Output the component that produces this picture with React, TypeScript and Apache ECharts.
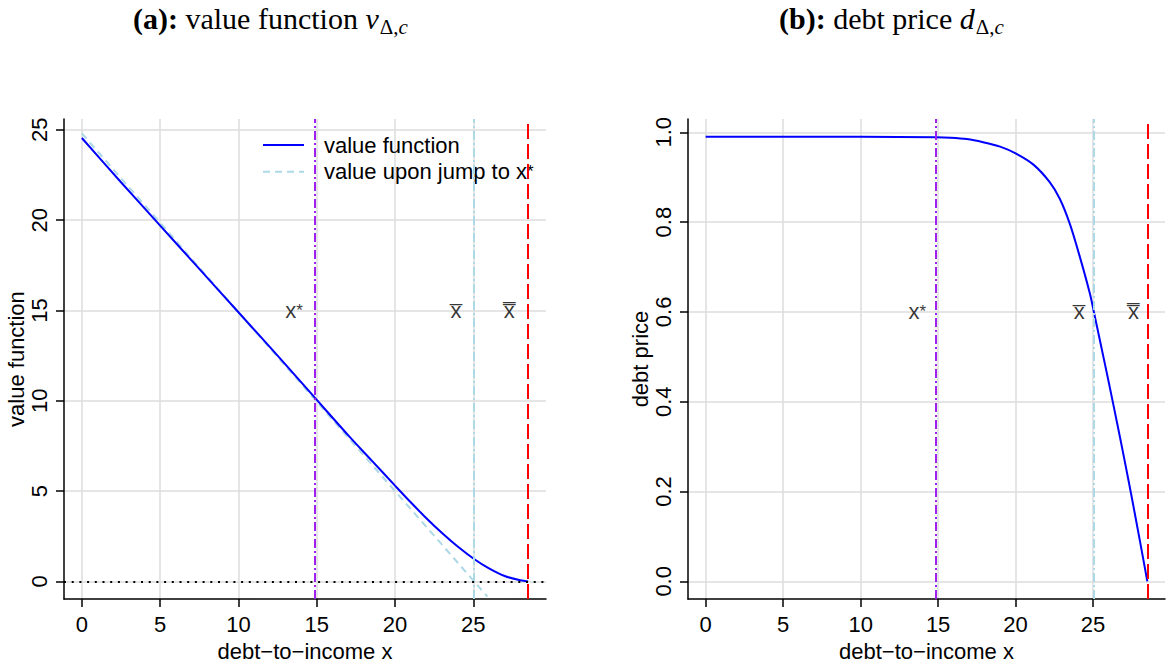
import React, { useEffect, useRef } from "react";
import * as echarts from "echarts";

// Tick positions shared by both panels
const xTicks = [0, 5, 10, 15, 20, 25];
const valueTicks = [0, 5, 10, 15, 20, 25];
const priceTicks = [0, 0.2, 0.4, 0.6, 0.8, 1.0];

// Value function v(x)
const valueX = [0, 2.5, 5, 7.5, 10, 12.5, 14.85, 17, 18.5, 20, 21, 22, 23, 24, 25, 26, 27, 28, 28.5];
const valueY = [24.55, 22.1, 19.7, 17.3, 14.9, 12.5, 10.2, 8.1, 6.7, 5.3, 4.38, 3.5, 2.68, 1.93, 1.27, 0.72, 0.3, 0.06, 0];

// Value upon jump to x* (straight line)
const jumpX = [0, 14.85, 25.05, 25.9];
const jumpY = [24.8, 10.1, 0, -0.84];

// Debt price d(x)
const priceX = [0, 5, 10, 14.85, 15.8, 16.85, 17.9, 19, 20, 21.15, 22.2, 22.85, 23.5, 24.15, 24.8, 25.05, 25.5, 26, 26.5, 27, 27.5, 28, 28.5];
const priceY = [0.99, 0.99, 0.99, 0.989, 0.988, 0.985, 0.978, 0.968, 0.953, 0.928, 0.889, 0.852, 0.796, 0.722, 0.64, 0.6, 0.527, 0.445, 0.361, 0.275, 0.186, 0.094, 0];

// Thresholds
const xStar = 14.85;
const xBar = 25.05;
const xBarBar = 28.5;

// Threshold labels (text, x, y) per panel
const markerNames = ["x*", "x\u0305", "x\u033F"];
const valueMarkerX = [13.55, 23.9, 27.3];
const valueMarkerY = [15, 15, 15];
const priceMarkerX = [13.65, 24.1, 27.6];
const priceMarkerY = [0.6, 0.6, 0.6];

// Axis extents
const xRange = [-1.14, 29.64];
const valueRange = [-0.98, 25.6];
const priceRange = [-0.0396, 1.0296];

const SANS = "'Liberation Sans', Arial, Helvetica, sans-serif";
const SERIF = "'Liberation Serif', 'Times New Roman', serif";
const FS = 22;

const zip = (xs: number[], ys: number[]) => xs.map((x, i) => [x, ys[i]]);

const textBase = { fontFamily: SANS, fontSize: FS, color: "#000", lineHeight: 22 };
const gridLine = { show: true, lineStyle: { color: "#DCDCDC", width: 1.5 } };
const blackLine = { color: "#000", width: 1.5 };

function xAxisFor(gridIndex: number) {
  return {
    type: "value",
    gridIndex,
    min: xRange[0],
    max: xRange[1],
    axisLine: { show: true, onZero: false, lineStyle: blackLine },
    axisTick: { show: true, length: 8, customValues: xTicks, lineStyle: blackLine },
    axisLabel: { customValues: xTicks, margin: 14, ...textBase },
    splitLine: gridLine,
    name: "debt\u2212to\u2212income x",
    nameLocation: "middle",
    nameGap: 39,
    nameTextStyle: textBase,
  };
}

function yAxisFor(gridIndex: number, range: number[], ticks: number[], name: string, digits: number) {
  return {
    type: "value",
    gridIndex,
    min: range[0],
    max: range[1],
    axisLine: { show: true, onZero: false, lineStyle: blackLine },
    axisTick: { show: true, length: 8, customValues: ticks, lineStyle: blackLine },
    axisLabel: {
      customValues: ticks,
      rotate: 90,
      margin: 14,
      formatter: (v: number) => v.toFixed(digits),
      ...textBase,
    },
    splitLine: gridLine,
    name,
    nameLocation: "middle",
    nameGap: 29,
    nameTextStyle: textBase,
  };
}

const dotDash = (color: string) => ({ color, width: 2, type: [9, 3, 2, 3] });

function thresholdLines() {
  return {
    silent: true,
    symbol: ["none", "none"],
    label: { show: false },
    emphasis: { disabled: true },
    data: [
      { xAxis: xStar, lineStyle: dotDash("#A020F0") },
      { xAxis: xBar, lineStyle: dotDash("#ADD8E6") },
      { xAxis: xBarBar, lineStyle: { color: "#FF0000", width: 2, type: [15, 5] } },
    ],
  };
}

function markerSeries(xi: number, xs: number[], ys: number[]) {
  return {
    type: "scatter",
    xAxisIndex: xi,
    yAxisIndex: xi,
    symbolSize: 0,
    silent: true,
    data: markerNames.map((n, i) => ({ name: n, value: [xs[i], ys[i]] })),
    label: {
      show: true,
      position: "inside",
      color: "#000",
      formatter: (p: any) => (p.name === "x*" ? "{a|x}{s|*}" : "{c|" + p.name + "}"),
      rich: {
        a: { fontFamily: SANS, fontSize: FS, color: "#000", lineHeight: 22 },
        s: { fontFamily: SANS, fontSize: 17, color: "#000", lineHeight: 16 },
        c: { fontFamily: "'Liberation Sans', 'DejaVu Sans', sans-serif", fontSize: FS, color: "#000", lineHeight: 22 },
      },
    },
  };
}

const titleRich = {
  b: { fontFamily: SERIF, fontSize: 30, fontWeight: "bold", color: "#000", lineHeight: 32 },
  n: { fontFamily: SERIF, fontSize: 30, fontWeight: "normal", color: "#000", lineHeight: 32 },
  i: { fontFamily: SERIF, fontSize: 30, fontWeight: "normal", fontStyle: "italic", color: "#000", lineHeight: 32 },
  d: { fontFamily: SERIF, fontSize: 21, fontWeight: "normal", color: "#000", lineHeight: 20, padding: [18, 0, 0, 1] },
  c: { fontFamily: SERIF, fontSize: 21, fontWeight: "normal", fontStyle: "italic", color: "#000", lineHeight: 20, padding: [18, 0, 0, 0] },
};

const titleStyle = { fontWeight: "normal", fontFamily: SERIF, color: "#000", rich: titleRich };

const JUMP = "value upon jump to x*";

export default function App() {
  const ref = useRef<HTMLDivElement>(null);

  useEffect(() => {
    if (!ref.current) return;
    const chart = echarts.init(ref.current, undefined, { renderer: "svg" });
    chart.setOption({
      animation: false,
      backgroundColor: "#fff",
      title: [
        { text: "{b|(a):}{n| value function }{i|v}{d|\u0394,}{c|c}", left: 128, top: -3, textStyle: titleStyle },
        { text: "{b|(b):}{n| debt price }{i|d}{d|\u0394,}{c|c}", left: 774, top: -3, textStyle: titleStyle },
      ],
      legend: {
        left: 262,
        top: 134,
        padding: 0,
        orient: "vertical",
        itemWidth: 41,
        itemHeight: 14,
        itemGap: 4.7,
        itemStyle: { opacity: 0 },
        data: ["value function", JUMP],
        formatter: (name: string) => (name === JUMP ? "{t|value upon jump to x}{s|*}" : "{t|" + name + "}"),
        textStyle: {
          padding: [0, 0, 0, 15],
          rich: {
            t: { fontFamily: SANS, fontSize: FS, color: "#000", lineHeight: 22 },
            s: { fontFamily: SANS, fontSize: 17, color: "#000", lineHeight: 16 },
          },
        },
      },
      grid: [
        { left: 64, top: 119, width: 482, height: 481 },
        { left: 688, top: 119, width: 477, height: 481 },
      ],
      xAxis: [xAxisFor(0), xAxisFor(1)],
      yAxis: [
        yAxisFor(0, valueRange, valueTicks, "value function", 0),
        yAxisFor(1, priceRange, priceTicks, "debt price", 1),
      ],
      series: [
        {
          name: "value function",
          type: "line",
          xAxisIndex: 0,
          yAxisIndex: 0,
          data: zip(valueX, valueY),
          symbol: "none",
          smooth: 0.3,
          lineStyle: { color: "#0000FF", width: 2 },
          itemStyle: { color: "#0000FF" },
          z: 3,
          markLine: {
            ...thresholdLines(),
            data: [
              ...thresholdLines().data,
              { yAxis: 0, lineStyle: { color: "#000", width: 2, type: [2, 5.7] } },
            ],
          },
        },
        {
          name: JUMP,
          type: "line",
          xAxisIndex: 0,
          yAxisIndex: 0,
          data: zip(jumpX, jumpY),
          symbol: "none",
          lineStyle: { color: "#ADD8E6", width: 2, type: [7, 5] },
          itemStyle: { color: "#ADD8E6" },
          z: 2,
        },
        markerSeries(0, valueMarkerX, valueMarkerY),
        {
          name: "debt price",
          type: "line",
          xAxisIndex: 1,
          yAxisIndex: 1,
          data: zip(priceX, priceY),
          symbol: "none",
          smooth: 0.3,
          lineStyle: { color: "#0000FF", width: 2 },
          z: 3,
          markLine: thresholdLines(),
        },
        markerSeries(1, priceMarkerX, priceMarkerY),
      ],
    });
    return () => chart.dispose();
  }, []);

  return (
    <div
      ref={ref}
      style={{ position: "fixed", left: 0, top: 0, width: 1168, height: 667, background: "#fff" }}
    />
  );
}
